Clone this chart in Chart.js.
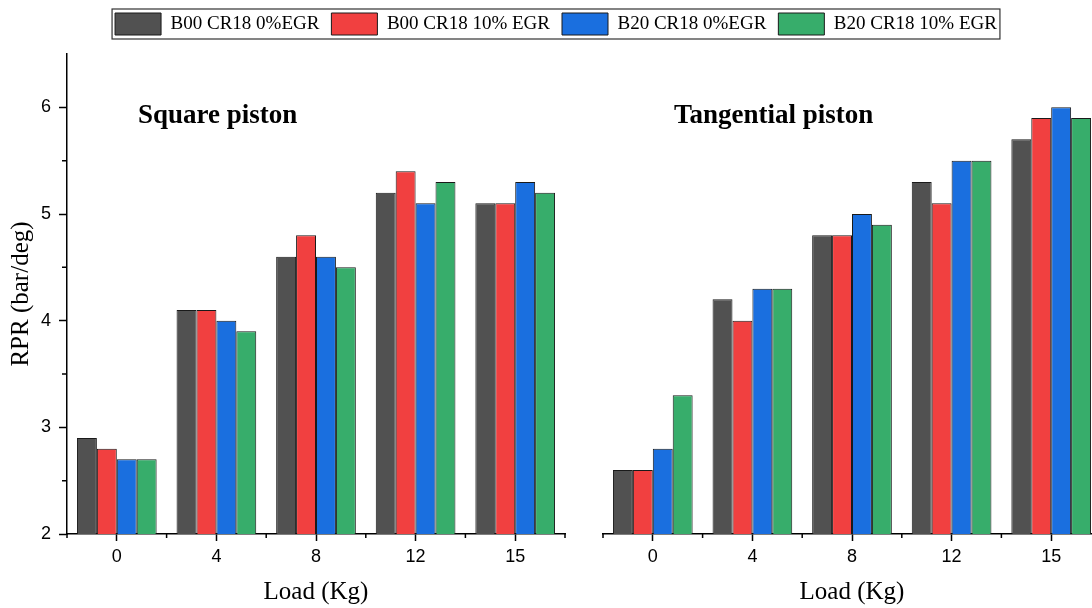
<!DOCTYPE html>
<html lang="en">
<head>
<meta charset="UTF-8" />
<title>RPR vs Load</title>
<style>
  html, body { margin: 0; padding: 0; background: #fff; overflow: hidden; }
  #wrap { position: relative; width: 1092px; height: 608px; overflow: hidden; }
  #leftChart { position: absolute; left: 0; top: 0; }
  #rightChart { position: absolute; left: 593px; top: 0; }
</style>
</head>
<body>
<div id="wrap">
  <canvas id="leftChart" width="1112" height="608"></canvas>
  <canvas id="rightChart" width="508" height="608"></canvas>
</div>
<script src="https://cdn.jsdelivr.net/npm/chart.js@4"></script>
<script>
// data
const loads = ["0", "4", "8", "12", "15"];
const seriesNames = ["B00 CR18 0%EGR", "B00 CR18 10% EGR", "B20 CR18 0%EGR", "B20 CR18 10% EGR"];
const colors = ["#515151", "#F14040", "#1A6FDF", "#37AD6B"];

// Square piston
const sqB00_0 = [2.9, 4.1, 4.6, 5.2, 5.1];
const sqB00_10 = [2.8, 4.1, 4.8, 5.4, 5.1];
const sqB20_0 = [2.7, 4.0, 4.6, 5.1, 5.3];
const sqB20_10 = [2.7, 3.9, 4.5, 5.3, 5.2];

// Tangential piston
const tgB00_0 = [2.6, 4.2, 4.8, 5.3, 5.7];
const tgB00_10 = [2.6, 4.0, 4.8, 5.1, 5.9];
const tgB20_0 = [2.8, 4.3, 5.0, 5.5, 6.0];
const tgB20_10 = [3.3, 4.3, 4.9, 5.5, 5.9];

const yMin = 2, yMax = 6.5;
const serif = "'Liberation Serif', 'Times New Roman', serif";
const sans = "'Liberation Sans', Arial, sans-serif";

function makeDatasets(series) {
  return series.map((d, i) => ({
    label: seriesNames[i],
    data: d,
    backgroundColor: colors[i],
    borderColor: "#1a1a1a",
    borderWidth: 1,
    barPercentage: 1.0,
    categoryPercentage: 0.8,
    xAxisID: "x",
    yAxisID: "y"
  }));
}

// short ticks between categories and at half units
const minorTicks = {
  id: "minorTicks",
  afterDraw(chart) {
    const ctx = chart.ctx;
    const area = chart.chartArea;
    const x = chart.scales.x;
    ctx.save();
    ctx.strokeStyle = "#000";
    ctx.lineWidth = 1.5;
    ctx.beginPath();
    const n = x.ticks.length;
    for (let i = 0; i <= n; i++) {
      let px;
      if (i === 0) px = area.left;
      else if (i === n) px = area.right;
      else px = (x.getPixelForTick(i - 1) + x.getPixelForTick(i)) / 2;
      ctx.moveTo(px, area.bottom);
      ctx.lineTo(px, area.bottom + 4);
    }
    const y = chart.scales.y;
    if (y.options.display) {
      for (let v = yMin + 0.5; v < yMax; v += 1) {
        const py = y.getPixelForValue(v);
        ctx.moveTo(area.left, py);
        ctx.lineTo(area.left - 5, py);
      }
    }
    ctx.stroke();
    ctx.restore();
  }
};

// bold label inside the plot area
const panelLabel = {
  id: "panelLabel",
  afterDraw(chart, args, opts) {
    if (!opts.text) return;
    const ctx = chart.ctx;
    const area = chart.chartArea;
    ctx.save();
    ctx.font = "bold 27px " + serif;
    ctx.fillStyle = "#000";
    ctx.textBaseline = "middle";
    ctx.textAlign = "left";
    ctx.fillText(opts.text, area.left + 71, area.top + 62);
    ctx.restore();
  }
};

// frame round the legend
const legendBox = {
  id: "legendBox",
  afterDraw(chart) {
    const lg = chart.legend;
    if (!lg || !chart.options.plugins.legend.display || !lg.legendHitBoxes.length) return;
    const hb = lg.legendHitBoxes;
    const l = Math.min(...hb.map(h => h.left));
    const r = Math.max(...hb.map(h => h.left + h.width));
    const t = Math.min(...hb.map(h => h.top));
    const b = Math.max(...hb.map(h => h.top + h.height));
    const ctx = chart.ctx;
    ctx.save();
    ctx.strokeStyle = "#333";
    ctx.lineWidth = 1.2;
    ctx.strokeRect(l - 3, t - 4, r - l + 6, b - t + 8);
    ctx.restore();
  }
};

function xAxis() {
  return {
    type: "category",
    offset: true,
    grid: { offset: false, drawOnChartArea: false, tickLength: 7, tickColor: "#000", tickWidth: 1.5 },
    border: { color: "#000", width: 1.5 },
    ticks: { color: "#000", font: { family: sans, size: 18 }, padding: 5 },
    title: {
      display: true, text: "Load (Kg)", color: "#000",
      font: { family: serif, size: 25 }, padding: { top: 0, bottom: 1 }
    },
    afterFit: s => { s.height = 74; }
  };
}

const leftChart = new Chart(document.getElementById("leftChart"), {
  type: "bar",
  data: { labels: loads, datasets: makeDatasets([sqB00_0, sqB00_10, sqB20_0, sqB20_10]) },
  options: {
    responsive: false,
    animation: false,
    devicePixelRatio: 1,
    layout: { padding: { top: 1 } },
    scales: {
      x: xAxis(),
      xPad: {
        type: "linear", position: "top", display: true,
        ticks: { display: false }, grid: { display: false }, border: { display: false },
        afterFit: s => { s.height = 9; }
      },
      y: {
        min: yMin, max: yMax,
        ticks: {
          stepSize: 1, color: "#000", padding: 8,
          font: { family: sans, size: 18 },
          callback: v => (Number.isInteger(v) ? v : "")
        },
        grid: {
          drawOnChartArea: false, tickLength: 8, tickWidth: 1.5,
          tickColor: c => (Number.isInteger(c.tick.value) ? "#000" : "rgba(0,0,0,0)")
        },
        border: { color: "#000", width: 1.5 },
        title: {
          display: true, text: "RPR (bar/deg)", color: "#000",
          font: { family: serif, size: 25 }, padding: { top: 6, bottom: 0 }
        },
        afterFit: s => { s.width = 67; }
      },
      yPad: {
        type: "linear", position: "right", display: true,
        ticks: { display: false }, grid: { display: false }, border: { display: false },
        afterFit: s => { s.width = 1112 - 565; }
      }
    },
    plugins: {
      legend: {
        display: true,
        position: "top",
        labels: {
          boxWidth: 46, boxHeight: 22, padding: 12, color: "#000",
          font: { family: serif, size: 19 }
        }
      },
      tooltip: { enabled: false },
      panelLabel: { text: "Square piston" }
    }
  },
  plugins: [minorTicks, panelLabel, legendBox]
});

new Chart(document.getElementById("rightChart"), {
  type: "bar",
  data: { labels: loads, datasets: makeDatasets([tgB00_0, tgB00_10, tgB20_0, tgB20_10]) },
  options: {
    responsive: false,
    animation: false,
    devicePixelRatio: 1,
    layout: { padding: { left: 10, top: leftChart.chartArea.top } },
    scales: {
      x: xAxis(),
      y: { display: false, min: yMin, max: yMax }
    },
    plugins: {
      legend: { display: false },
      tooltip: { enabled: false },
      panelLabel: { text: "Tangential piston" }
    }
  },
  plugins: [minorTicks, panelLabel]
});
</script>
</body>
</html>
